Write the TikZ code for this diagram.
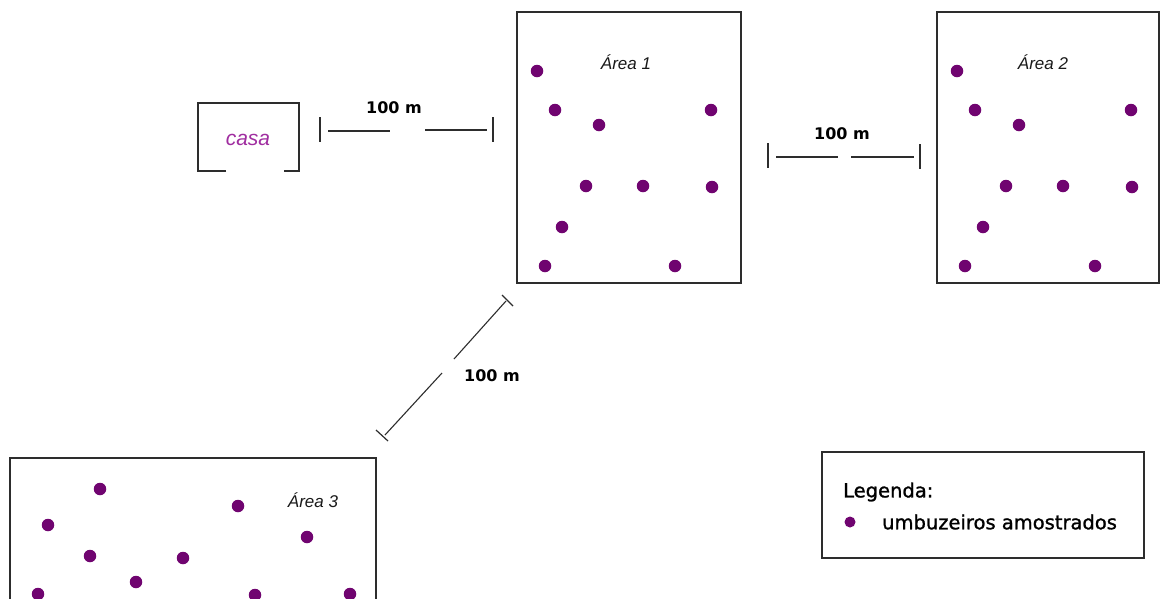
\documentclass[tikz,border=0pt]{standalone}
\usepackage{fontspec}
\newfontfamily\arialfont{Liberation Sans}
\newfontfamily\dejafont{DejaVu Sans}
\newfontfamily\legendfont{DejaVu Sans}[FakeBold=1.2]
\definecolor{treepurple}{RGB}{112,4,112}
\definecolor{casapurple}{RGB}{160,45,160}
\definecolor{edgegray}{RGB}{45,45,45}
\tikzset{
  plot/.style={draw=edgegray, line width=1.6pt},
  tree/.style={circle, fill=treepurple, inner sep=0pt, minimum size=12.5pt},
  bar/.style={draw=edgegray, line width=1.3pt},
  tick/.style={draw=edgegray, line width=1.5pt},
  dist/.style={font=\dejafont\bfseries\fontsize{16}{18}\selectfont, inner sep=1pt},
  areatitle/.style={font=\arialfont\itshape\fontsize{17}{19}\selectfont, text=black!90},
}
\begin{document}
\begin{tikzpicture}[x=1pt, y=-1pt]
\useasboundingbox (0,0) rectangle (1160,598);
\fill[white] (0,0) rectangle (1160,598);

% --- house with an open doorway at the bottom
\draw[plot] (226,171) -- (198,171) -- (198,103) -- (299,103) -- (299,171) -- (284,171);
\node[font=\arialfont\itshape\fontsize{21}{24}\selectfont, text=casapurple] (casa) at (248,140) {casa};

% --- sample plots
\draw[plot] (517,12) rectangle (741,283);
\draw[plot] (937,12) rectangle (1159,283);
\draw[plot] (10,600) -- (10,458) -- (376,458) -- (376,600);

\node[areatitle] (t1) at (626,62) {Área 1};
\node[areatitle] (t2) at (1043,62) {Área 2};
\node[areatitle] (t3) at (313,500) {Área 3};

% trees in plot 1
\foreach \p [count=\i] in {(537,71),(555,110),(599,125),(711,110),(586,186),(643,186),(712,187),(562,227),(545,266),(675,266)}
  \node[tree] (a\i) at \p {};
% trees in plot 2
\foreach \p [count=\i] in {(957,71),(975,110),(1019,125),(1131,110),(1006,186),(1063,186),(1132,187),(983,227),(965,266),(1095,266)}
  \node[tree] (b\i) at \p {};
% trees in plot 3
\foreach \p [count=\i] in {(100,489),(238,506),(48,525),(307,537),(90,556),(183,558),(136,582),(38,594),(255,595),(350,594)}
  \node[tree] (c\i) at \p {};

% --- distance bar: house to plot 1
\coordinate (h1) at (320,117); \coordinate (h2) at (320,142);
\coordinate (h3) at (328,131); \coordinate (h4) at (390,131);
\coordinate (h5) at (425,130); \coordinate (h6) at (487,130);
\coordinate (h7) at (493,117); \coordinate (h8) at (493,142);
\draw[tick] (h1) -- (h2);
\draw[bar] (h3) -- (h4);
\draw[bar] (h5) -- (h6);
\draw[tick] (h7) -- (h8);
\node[dist] (d1) at (394,108) {100 m};

% --- distance bar: plot 1 to plot 2
\coordinate (r1) at (768,143); \coordinate (r2) at (768,168);
\coordinate (r3) at (776,157); \coordinate (r4) at (838,157);
\coordinate (r5) at (851,157); \coordinate (r6) at (914,157);
\coordinate (r7) at (920,144); \coordinate (r8) at (920,169);
\draw[tick] (r1) -- (r2);
\draw[bar] (r3) -- (r4);
\draw[bar] (r5) -- (r6);
\draw[tick] (r7) -- (r8);
\node[dist] (d2) at (842,134) {100 m};

% --- distance bar: plot 1 to plot 3 (diagonal)
\coordinate (g1) at (502,295); \coordinate (g2) at (513,306);
\coordinate (g3) at (506,301); \coordinate (g4) at (454,359);
\coordinate (g5) at (442,373); \coordinate (g6) at (385,435);
\coordinate (g7) at (376,430); \coordinate (g8) at (388,441);
\draw[tick, line width=1.2pt] (g1) -- (g2);
\draw[bar, line width=1.1pt] (g3) -- (g4);
\draw[bar, line width=1.1pt] (g5) -- (g6);
\draw[tick, line width=1.2pt] (g7) -- (g8);
\node[dist] (d3) at (492,376) {100 m};

% --- legend
\draw[draw=edgegray, line width=1.4pt] (822,452) rectangle (1144,558);
\node[anchor=west, font=\legendfont\fontsize{19.5}{22}\selectfont, inner sep=0pt] (lg) at (843,492) {Legenda:};
\node[tree, minimum size=11pt] (ld) at (850,522) {};
\node[anchor=west, font=\legendfont\fontsize{19.5}{22}\selectfont, inner sep=0pt] (lt) at (882,522) {umbuzeiros amostrados};
\end{tikzpicture}
\end{document}
